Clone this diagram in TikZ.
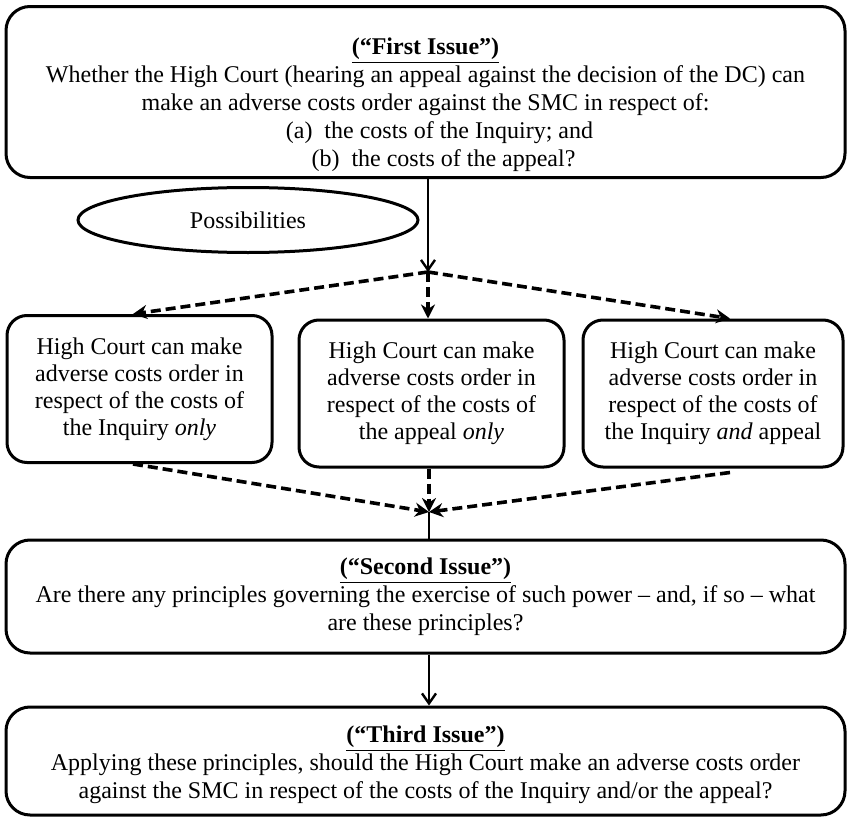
\documentclass[tikz,border=0pt]{standalone}
\usepackage{fontspec}
\setmainfont{Liberation Serif}
\usetikzlibrary{arrows.meta,shapes.geometric}
\newcommand{\issue}[1]{\raisebox{0pt}[\height][0pt]{\underline{\textbf{(``#1'')}}}}

\begin{document}
\begin{tikzpicture}[x=0.5pt,y=-0.5pt,font=\fontsize{12}{14}\selectfont]
  \tikzset{issue box/.style={draw,line width=1.5pt,rounded corners=12pt,align=center,inner sep=0pt,minimum width=419.5pt},
    option box/.style={draw,line width=1.5pt,rounded corners=10pt,align=center,inner sep=0pt,minimum height=73.5pt,font=\fontsize{12}{13.5}\selectfont},
    solid link/.style={line width=1.2pt,-{Straight Barb[length=5pt,width=7pt]}},
    dashed link/.style={line width=1.8pt,dash pattern=on 5pt off 2.5pt,-{Stealth[length=7pt,width=7pt]}}}
  \useasboundingbox (0,0) rectangle (847,819);
  \node[issue box,minimum height=85.5pt] (first) at (425.5,92)
    {\rule{0pt}{21pt}\issue{First Issue}\\
     Whether the High Court (hearing an appeal against the decision of the DC) can\\
     make an adverse costs order against the SMC in respect of:\\
     \hspace*{14pt}(a)~ the costs of the Inquiry; and\\
     \hspace*{18pt}(b)~ the costs of the appeal?};
  \node[draw,ellipse,line width=1.5pt,inner sep=0pt,minimum width=170pt,minimum height=32.5pt] (poss) at (248,220) {Possibilities};
  \coordinate (split) at (428,272);
  \node[option box,minimum width=132.5pt] (inquiry) at (139.5,389)
    {High Court can make\\adverse costs order in\\respect of the costs of\\the Inquiry \textit{only}};
  \node[option box,minimum width=132.5pt] (appeal) at (431.5,393.5)
    {High Court can make\\adverse costs order in\\respect of the costs of\\the appeal \textit{only}};
  \node[option box,minimum width=130pt] (both) at (713,393.5)
    {High Court can make\\adverse costs order in\\respect of the costs of\\the Inquiry \textit{and} appeal};
  \coordinate (merge) at (429,512);
  \node[issue box,minimum height=56.5pt] (second) at (425.5,596.5)
    {\issue{Second Issue}\\
     Are there any principles governing the exercise of such power -- and, if so -- what\\
     are these principles?};
  \node[issue box,minimum height=54pt] (third) at (425.5,761)
    {\rule{0pt}{12pt}\issue{Third Issue}\\
     Applying these principles, should the High Court make an adverse costs order\\
     against the SMC in respect of the costs of the Inquiry and/or the appeal?};
  \draw[solid link] (first.south -| split) -- (split);
  \draw[dashed link] (split) -- ([xshift=-3.25pt]inquiry.north);
  \draw[dashed link] (split) -- (appeal.north -| split);
  \draw[dashed link] (split) -- ([xshift=8.5pt]both.north);
  \draw[dashed link] ([xshift=-3.25pt]inquiry.south) -- (merge);
  \draw[dashed link] (appeal.south -| merge) -- (merge);
  \draw[dashed link] ([xshift=8.5pt,yshift=-2pt]both.south) -- (merge);
  \draw[line width=1.2pt] (merge) -- (second.north -| merge);
  \draw[solid link] (second.south -| merge) -- (third.north -| merge);
\end{tikzpicture}
\end{document}
